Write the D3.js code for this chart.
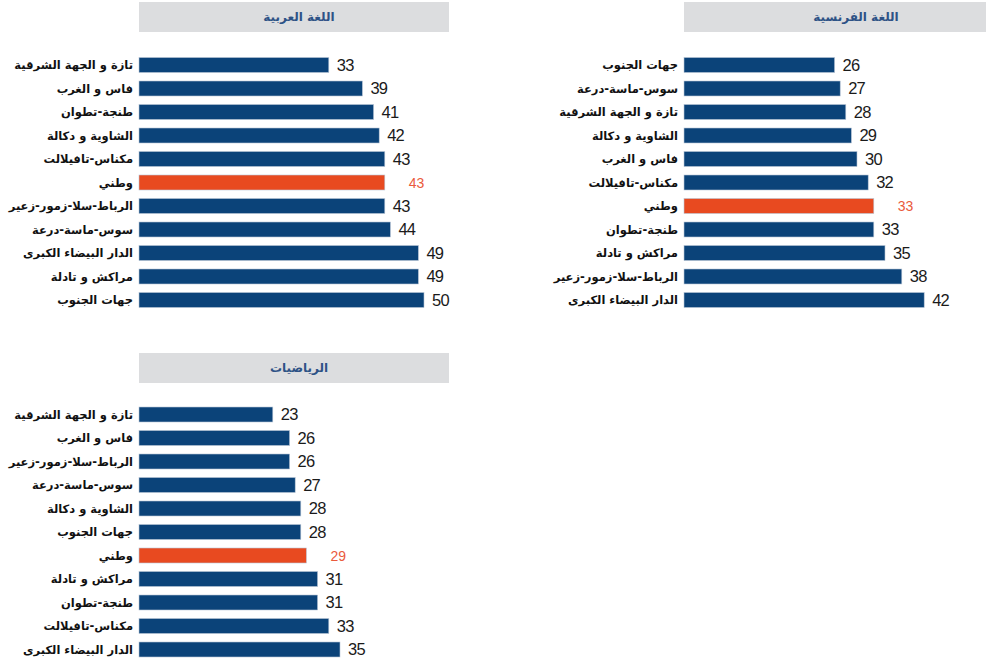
<!DOCTYPE html>
<html>
<head>
<meta charset="utf-8">
<script src="https://cdnjs.cloudflare.com/ajax/libs/d3/7.8.5/d3.min.js"></script>
<style>
	html, body { margin: 0; padding: 0; background: #fff; }
	svg { display: block; }
</style>
</head>
<body>
<script>
// Данные: категории (регионы) и значения для каждого предмета
var arabicTitle = "اللغة العربية";
var arabicCats = ["تازة و الجهة الشرقية", "فاس و الغرب", "طنجة-تطوان", "الشاوية و دكالة", "مكناس-تافيلالت", "وطني", "الرباط-سلا-زمور-زعير", "سوس-ماسة-درعة", "الدار البيضاء الكبرى", "مراكش و تادلة", "جهات الجنوب"];
var arabicVals = [33, 39, 41, 42, 43, 43, 43, 44, 49, 49, 50];

var frenchTitle = "اللغة الفرنسية";
var frenchCats = ["جهات الجنوب", "سوس-ماسة-درعة", "تازة و الجهة الشرقية", "الشاوية و دكالة", "فاس و الغرب", "مكناس-تافيلالت", "وطني", "طنجة-تطوان", "مراكش و تادلة", "الرباط-سلا-زمور-زعير", "الدار البيضاء الكبرى"];
var frenchVals = [26, 27, 28, 29, 30, 32, 33, 33, 35, 38, 42];

var mathTitle = "الرياضيات";
var mathCats = ["تازة و الجهة الشرقية", "فاس و الغرب", "الرباط-سلا-زمور-زعير", "سوس-ماسة-درعة", "الشاوية و دكالة", "جهات الجنوب", "وطني", "مراكش و تادلة", "طنجة-تطوان", "مكناس-تافيلالت", "الدار البيضاء الكبرى"];
var mathVals = [23, 26, 26, 27, 28, 28, 29, 31, 31, 33, 35];

var nationalCat = "وطني";

var width = 986,
		height = 666,
		barColor = "#0b4379",
		natColor = "#e84a20";

var svg = d3.select("body")
	.append("svg")
	.attr("width", width)
	.attr("height", height);

// Общая шкала по горизонтали для всех трёх панелей
var x = d3.scaleLinear()
	.domain([0, 50])
	.range([5, 285]);

// Рисует одну панель: заголовок + горизонтальные столбики
function drawPanel(title, cats, vals, left, headTop, barsTop, headW) {
	var g = svg.append("g").attr("transform", "translate(" + left + ",0)");

	// Заголовок в сером прямоугольнике
	g.append("rect")
		.attr("x", 0)
		.attr("y", headTop)
		.attr("width", headW)
		.attr("height", 30)
		.attr("fill", "#dcdddf");

	g.append("text")
		.attr("x", headW / 2 + 5)
		.attr("y", headTop + 15)
		.attr("dy", "0.35em")
		.attr("text-anchor", "middle")
		.attr("font-family", "'DejaVu Sans', sans-serif")
		.attr("font-weight", "bold")
		.attr("font-size", 12)
		.attr("fill", "#2e5286")
		.text(title);

	var y = d3.scaleBand()
		.domain(cats)
		.range([barsTop, barsTop + cats.length * 23.5])
		.paddingInner(0.362)
		.paddingOuter(0.181);

	var data = cats.map(function(c, i) { return { cat: c, val: vals[i] }; });

	var rows = g.selectAll("g.row")
		.data(data)
		.enter()
		.append("g")
		.attr("class", "row")
		.attr("transform", function(d) { return "translate(0," + y(d.cat) + ")"; });

	rows.append("rect")
		.attr("x", 0)
		.attr("y", 0)
		.attr("height", y.bandwidth())
		.attr("width", function(d) { return x(d.val); })
		.attr("fill", function(d) { return d.cat === nationalCat ? natColor : barColor; })
		.attr("stroke", "#b9c6d6")
		.attr("stroke-width", 0.6);

	// Подписи регионов слева
	rows.append("text")
		.attr("x", -6)
		.attr("y", y.bandwidth() / 2)
		.attr("dy", "0.35em")
		.attr("text-anchor", "end")
		.attr("font-family", "'DejaVu Sans', sans-serif")
		.attr("font-weight", "bold")
		.attr("font-size", 11.5)
		.attr("fill", "#111")
		.text(function(d) { return d.cat; });

	// Значения справа от столбика
	rows.append("text")
		.attr("x", function(d) { return x(d.val) + (d.cat === nationalCat ? 24 : 8); })
		.attr("y", y.bandwidth() / 2)
		.attr("dy", "0.36em")
		.attr("font-family", "'Liberation Sans Narrow', 'Liberation Sans', sans-serif")
		.attr("font-size", function(d) { return d.cat === nationalCat ? 14 : 16.5; })
		.attr("letter-spacing", function(d) { return d.cat === nationalCat ? 0 : -0.8; })
		.attr("fill", function(d) { return d.cat === nationalCat ? "#ea5a3c" : "#1a1a1a"; })
		.text(function(d) { return d.val; });
}

drawPanel(arabicTitle, arabicCats, arabicVals, 139, 2, 53.25, 310);
drawPanel(frenchTitle, frenchCats, frenchVals, 684, 2, 53.25, 334);
drawPanel(mathTitle, mathCats, mathVals, 139, 353, 402.75, 310);
</script>
</body>
</html>
